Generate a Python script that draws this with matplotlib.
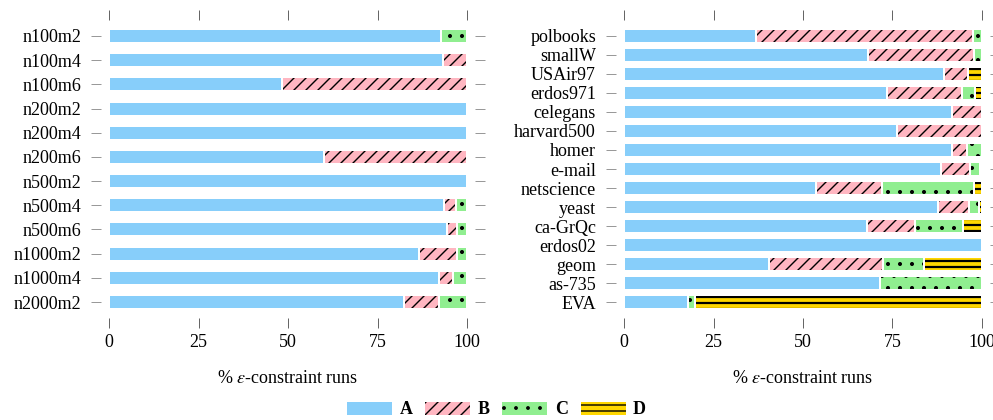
import matplotlib
matplotlib.use("Agg")
import matplotlib.pyplot as plt
from matplotlib.patches import Patch

DPI = 72
PX = 72.0 / DPI  # points per pixel

plt.rcParams['font.family'] = ['Liberation Serif', 'DejaVu Serif']
plt.rcParams['mathtext.fontset'] = 'stix'
plt.rcParams['hatch.linewidth'] = 1.4 * PX

# ---- data ----
left_cats = ["n100m2", "n100m4", "n100m6", "n200m2", "n200m4", "n200m6",
             "n500m2", "n500m4", "n500m6", "n1000m2", "n1000m4", "n2000m2"]
left_A = [92.7, 93.4, 48.2, 100, 100, 60.1, 100, 93.6, 94.4, 86.7, 92.2, 82.3]
left_B = [0, 6.6, 51.8, 0, 0, 39.9, 0, 3.2, 2.7, 10.4, 4.0, 9.8]
left_C = [7.3, 0, 0, 0, 0, 0, 0, 3.2, 2.9, 2.9, 3.8, 7.9]
left_D = [0, 0, 0, 0, 0, 0, 0, 0, 0, 0, 0, 0]

right_cats = ["polbooks", "smallW", "USAir97", "erdos971", "celegans", "harvard500",
              "homer", "e-mail", "netscience", "yeast", "ca-GrQc", "erdos02",
              "geom", "as-735", "EVA"]
right_A = [36.8, 68.1, 89.3, 73.4, 91.5, 76.3, 91.5, 88.5, 53.6, 87.8, 68.0, 100, 40.4, 71.6, 18.0]
right_B = [60.6, 29.6, 6.9, 20.9, 8.5, 23.7, 4.2, 8.2, 18.6, 8.7, 13.4, 0, 32.0, 0, 0]
right_C = [2.6, 2.3, 0, 3.7, 0, 0, 4.3, 2.7, 25.7, 2.6, 13.4, 0, 11.5, 28.4, 1.7]
right_D = [0, 0, 3.8, 2.0, 0, 0, 0, 0.6, 2.1, 0.9, 5.2, 0, 16.1, 0, 80.3]

xticks = [0, 25, 50, 75, 100]
series_names = ["A", "B", "C", "D"]
series_colors = ["#87CEFA", "#FFB6C1", "#90EE90", "#FFD700"]
series_hatches = [None, "//", ".", "--"]
series_hatch_lw = [1.4, 1.4, 1.6, 2.2]
xlabel = r"% $\epsilon$-constraint runs"

W, H = 993, 420
fig = plt.figure(figsize=(W / DPI, H / DPI), dpi=DPI)
FS = 18 * PX


def ax_rect(x0, x1, ytop, ybot):
    return [x0 / W, (H - ybot) / H, (x1 - x0) / W, (ybot - ytop) / H]


ax1 = fig.add_axes(ax_rect(109, 467, 20, 318))
ax2 = fig.add_axes(ax_rect(624, 982, 20, 318))


def set_hlw(patches, lw):
    for p in patches:
        if hasattr(p, "set_hatch_linewidth"):
            p.set_hatch_linewidth(lw * PX)


def draw(ax, cats, series, height, pad):
    n = len(cats)
    ys = list(range(n))
    lefts = [0.0] * n
    for vals, col, hat, hlw in zip(series, series_colors, series_hatches, series_hatch_lw):
        for i, v in enumerate(vals):
            if v <= 0:
                continue
            with plt.rc_context({'hatch.linewidth': hlw * PX}):
                bc = ax.barh(ys[i], v, left=lefts[i], height=height, color=col,
                             hatch=hat, edgecolor="black", linewidth=0)
            set_hlw(bc.patches, hlw)
            ax.barh(ys[i], v, left=lefts[i], height=height, fill=False,
                    edgecolor="white", linewidth=2 * PX)
        lefts = [l + v for l, v in zip(lefts, vals)]
    ax.set_xlim(0, 100)
    ax.set_ylim(n - 1 + pad, -pad)
    ax.set_yticks(ys)
    ax.set_yticklabels(cats)
    ax.set_xticks(xticks)
    ax.set_xticklabels([str(t) for t in xticks])
    for s in ax.spines.values():
        s.set_visible(False)
    ax.spines['left'].set_position(('outward', 8 * PX))
    ax.spines['right'].set_position(('outward', 8 * PX))
    ax.tick_params(axis='x', top=True, bottom=True, labeltop=False,
                   length=10 * PX, width=1 * PX, color="#666666",
                   labelsize=FS, pad=6 * PX)
    ax.tick_params(axis='y', left=True, right=True, labelright=False,
                   length=10 * PX, width=1 * PX, color="#999999",
                   labelsize=FS, pad=10 * PX)
    ax.set_xlabel(xlabel, fontsize=FS, labelpad=19 * PX)


draw(ax1, left_cats, [left_A, left_B, left_C, left_D], 0.58, 0.66)
draw(ax2, right_cats, [right_A, right_B, right_C, right_D], 0.737, 0.84)

handles = []
for c, h, hlw in zip(series_colors, series_hatches, series_hatch_lw):
    with plt.rc_context({'hatch.linewidth': hlw * PX}):
        p = Patch(facecolor=c, hatch=h, edgecolor="black", linewidth=0)
    set_hlw([p], hlw)
    handles.append(p)
leg = fig.legend(handles, series_names, loc="center", bbox_to_anchor=(0.5, 10 / H),
                 ncol=4, frameon=False, handlelength=2.5, handleheight=0.72,
                 handletextpad=0.4, columnspacing=0.72,
                 prop={"size": FS, "weight": "bold"})

fig.savefig("out.png", dpi=DPI)
